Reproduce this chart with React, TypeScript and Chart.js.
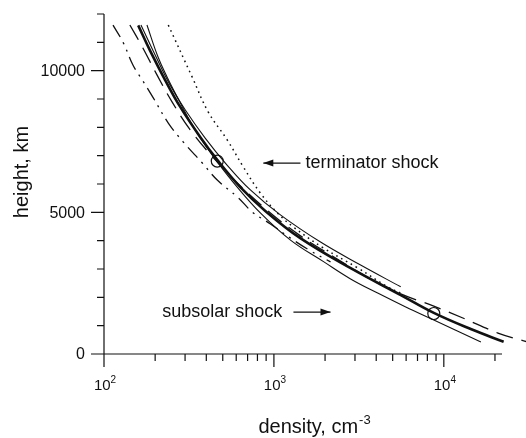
import React, { useEffect, useRef } from "react";
import { Chart, registerables } from "chart.js";
Chart.register(...registerables);

// ---- data (density cm^-3, height km) ----
const dottedCurve: number[][] = [[239, 11610], [330, 9780], [411, 8540], [532, 7550], [661, 6600], [832, 5680], [1048, 4980], [1303, 4480], [1959, 3740], [3109, 3040], [4673, 2370], [5577, 2150]];
const thinCurveA: number[][] = [[179, 11610], [208, 10480], [235, 9780], [270, 9070], [331, 8080], [394, 7380], [464, 6780], [593, 5970], [832, 4980], [1252, 4020], [1959, 3260], [2827, 2650], [4080, 2150], [5970, 1660], [8730, 1200], [16530, 420]];
const thickCurve: number[][] = [[159, 11600], [187, 10700], [229, 9670], [281, 8720], [368, 7660], [464, 6850], [634, 5890], [890, 5050], [1430, 4090], [2830, 3030], [5580, 2080], [8730, 1450], [14400, 880], [22500, 430]];
const thinCurveB: number[][] = [[165, 11610], [200, 10550], [245, 9490], [301, 8610], [394, 7620], [518, 6740], [727, 5790], [1092, 4910], [1881, 3950], [3238, 3140], [5577, 2370]];
const dashedCurve: number[][] = [[142, 11610], [168, 10840], [205, 9850], [252, 8890], [322, 7910], [452, 6850], [635, 5930], [954, 4980], [1433, 4170], [2306, 3390], [3611, 2680], [5577, 2120], [8730, 1690], [12945, 1270], [20830, 740], [31310, 420]];
const dashDotCurve: number[][] = [[113, 11610], [130, 10980], [148, 10200], [168, 9670], [195, 9040], [239, 8150], [293, 7480], [379, 6740], [464, 6140], [618, 5510], [747, 5010], [954, 4590], [1252, 4090], [1642, 3640], [2154, 3250]];
const shockMarks: number[][] = [[464, 6810], [8730, 1430]];

// axes
const X_MIN = 100;
const X_MAX = 22000;
const Y_MIN = 0;
const Y_MAX = 12000;
const Y_MINOR_STEP = 1000;
const Y_MAJOR_STEP = 5000;
const xDecades = [100, 1000, 10000];
const xDecadeExponents = ["2", "3", "4"];
const yLabelValues = [0, 5000, 10000];
const yLabelTexts = ["0", "5000", "10000"];

// annotations (data space)
const terminatorText = "terminator shock";
const terminatorArrow = [[1433, 6740], [866, 6740]]; // from, to (head)
const terminatorTextAt = [1535, 6740];
const subsolarText = "subsolar shock";
const subsolarArrow = [[1303, 1480], [2154, 1480]];
const subsolarTextAt = [220, 1480];

const FONT = "'Liberation Sans', Arial, Helvetica, sans-serif";
const INK = "#111";

const toXY = (arr: number[][]) => arr.map(([x, y]) => ({ x, y }));

const drawArrow = (ctx: CanvasRenderingContext2D, x1: number, y1: number, x2: number, y2: number) => {
  ctx.beginPath();
  ctx.moveTo(x1, y1);
  ctx.lineTo(x2, y2);
  ctx.lineWidth = 1.3;
  ctx.stroke();
  const dir = Math.sign(x2 - x1);
  ctx.beginPath();
  ctx.moveTo(x2, y2);
  ctx.lineTo(x2 - dir * 10, y2 - 3.5);
  ctx.lineTo(x2 - dir * 10, y2 + 3.5);
  ctx.closePath();
  ctx.fill();
};

const decorPlugin = {
  id: "decor",
  afterDraw(chart: any) {
    const { ctx, chartArea: a, scales } = chart;
    const xs = scales.x;
    const ys = scales.y;
    ctx.save();
    ctx.strokeStyle = INK;
    ctx.fillStyle = INK;
    ctx.lineWidth = 1.2;
    ctx.setLineDash([]);
    ctx.beginPath();
    ctx.moveTo(a.left, a.top);
    ctx.lineTo(a.left, a.bottom);
    ctx.moveTo(a.left, a.bottom);
    ctx.lineTo(a.right, a.bottom);
    for (let v = Y_MIN; v <= Y_MAX; v += Y_MINOR_STEP) {
      const py = ys.getPixelForValue(v);
      const len = v % Y_MAJOR_STEP === 0 ? 13 : 7;
      ctx.moveTo(a.left - len, py);
      ctx.lineTo(a.left, py);
    }
    for (const d of xDecades) {
      for (let m = 1; m <= 9; m++) {
        const v = d * m;
        if (v > X_MAX) break;
        const px = xs.getPixelForValue(v);
        const len = m === 1 ? 13 : 7;
        ctx.moveTo(px, a.bottom);
        ctx.lineTo(px, a.bottom + len);
      }
    }
    ctx.stroke();

    // y tick labels
    ctx.font = `16px ${FONT}`;
    ctx.textAlign = "right";
    ctx.textBaseline = "middle";
    yLabelValues.forEach((v, i) => {
      ctx.fillText(yLabelTexts[i], a.left - 19, ys.getPixelForValue(v) + 1);
    });

    // x tick labels 10^n
    ctx.textBaseline = "alphabetic";
    ctx.textAlign = "left";
    xDecades.forEach((d, i) => {
      const px = xs.getPixelForValue(d);
      ctx.font = `15px ${FONT}`;
      const w1 = ctx.measureText("10").width;
      ctx.font = `10px ${FONT}`;
      const w2 = ctx.measureText(xDecadeExponents[i]).width;
      const x0 = px - (w1 + w2) / 2 + 1;
      ctx.font = `15px ${FONT}`;
      ctx.fillText("10", x0, a.bottom + 36);
      ctx.font = `10px ${FONT}`;
      ctx.fillText(xDecadeExponents[i], x0 + w1, a.bottom + 29);
    });

    // x title
    ctx.font = `20px ${FONT}`;
    const t1 = "density, cm";
    const tw1 = ctx.measureText(t1).width;
    ctx.font = `13px ${FONT}`;
    const tw2 = ctx.measureText("-3").width;
    const cx = (a.left + a.right) / 2 + 11;
    const tx0 = cx - (tw1 + tw2) / 2;
    ctx.font = `20px ${FONT}`;
    ctx.fillText(t1, tx0, a.bottom + 79);
    ctx.font = `13px ${FONT}`;
    ctx.fillText("-3", tx0 + tw1 + 1, a.bottom + 70);

    // y title
    ctx.save();
    ctx.translate(a.left - 82, (a.top + a.bottom) / 2 - 12);
    ctx.rotate(-Math.PI / 2);
    ctx.font = `20px ${FONT}`;
    ctx.textAlign = "center";
    ctx.textBaseline = "middle";
    ctx.fillText("height, km", 0, 0);
    ctx.restore();

    // annotations
    ctx.font = `18px ${FONT}`;
    ctx.textAlign = "left";
    ctx.textBaseline = "middle";
    ctx.fillText(terminatorText, xs.getPixelForValue(terminatorTextAt[0]), ys.getPixelForValue(terminatorTextAt[1]));
    ctx.fillText(subsolarText, xs.getPixelForValue(subsolarTextAt[0]), ys.getPixelForValue(subsolarTextAt[1]));
    drawArrow(
      ctx,
      xs.getPixelForValue(terminatorArrow[0][0]), ys.getPixelForValue(terminatorArrow[0][1]),
      xs.getPixelForValue(terminatorArrow[1][0]), ys.getPixelForValue(terminatorArrow[1][1])
    );
    drawArrow(
      ctx,
      xs.getPixelForValue(subsolarArrow[0][0]), ys.getPixelForValue(subsolarArrow[0][1]),
      xs.getPixelForValue(subsolarArrow[1][0]), ys.getPixelForValue(subsolarArrow[1][1])
    );
    ctx.restore();
  },
};

const lineDs = (data: number[][], width: number, dash: number[]) => ({
  data: toXY(data),
  showLine: true,
  borderColor: INK,
  backgroundColor: INK,
  borderWidth: width,
  borderDash: dash,
  pointRadius: 0,
  pointHoverRadius: 0,
  tension: 0.4,
  fill: false,
  clip: false as any,
});

export default function App() {
  const ref = useRef<HTMLCanvasElement | null>(null);
  useEffect(() => {
    document.body.style.margin = "0";
    const canvas = ref.current!;
    const chart = new Chart(canvas, {
      type: "scatter",
      data: {
        datasets: [
          lineDs(dottedCurve, 1.5, [1.6, 4]),
          lineDs(thinCurveA, 1.1, []),
          lineDs(thinCurveB, 1.1, []),
          lineDs(thickCurve, 2.6, []),
          lineDs(dashedCurve, 1.3, [17, 9]),
          lineDs(dashDotCurve, 1.3, [14, 6, 2, 6, 2, 6]),
          {
            data: toXY(shockMarks),
            showLine: false,
            pointRadius: 6,
            pointHoverRadius: 6,
            pointBorderWidth: 1.2,
            borderColor: INK,
            backgroundColor: "rgba(0,0,0,0)",
            pointBackgroundColor: "rgba(0,0,0,0)",
            pointBorderColor: INK,
            clip: false as any,
          } as any,
        ],
      },
      options: {
        responsive: false,
        animation: false,
        events: [],
        layout: { padding: { left: 104, right: 24, top: 14, bottom: 84 } },
        plugins: { legend: { display: false }, tooltip: { enabled: false } },
        scales: {
          x: { type: "logarithmic", min: X_MIN, max: X_MAX, display: false },
          y: { type: "linear", min: Y_MIN, max: Y_MAX, display: false },
        },
      },
      plugins: [decorPlugin],
    } as any);
    return () => chart.destroy();
  }, []);
  return (
    <div style={{ width: 526, height: 438, background: "#fff" }}>
      <canvas ref={ref} width={526} height={438} style={{ display: "block" }} />
    </div>
  );
}
